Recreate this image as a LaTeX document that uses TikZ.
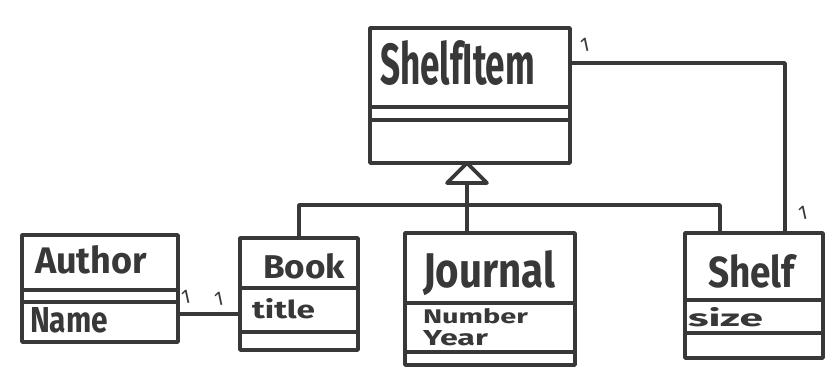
\documentclass[tikz,border=0pt]{standalone}
\usepackage{fontspec}
\setmainfont{Fira Sans}
\usetikzlibrary{calc}
\definecolor{ink}{HTML}{383838}
% hand-lettered label: exact width and ascender height
\newcommand\hw[3]{\resizebox{#1pt}{#2pt}{\bfseries #3}}

\begin{document}
\begin{tikzpicture}[x=1pt,y=-1pt,
  pen/.style={draw=ink,line width=3.6pt,line cap=round,line join=round},
  umlbox/.style={pen,anchor=north west,inner sep=0pt,outer sep=0pt},
  txt/.style={anchor=base west,inner sep=0pt,outer sep=0pt,text=ink},
  mult/.style={text=ink,inner sep=0pt,font=\fontsize{20}{20}\selectfont,rotate=12}]
\useasboundingbox (0,0) rectangle (835,378);

% class boxes
\node[umlbox,minimum width=200pt,minimum height=135pt] (item)    at (370,28)  {};
\node[umlbox,minimum width=156pt,minimum height=107pt] (author)  at (22,235)  {};
\node[umlbox,minimum width=118pt,minimum height=112pt] (book)    at (240,238) {};
\node[umlbox,minimum width=170pt,minimum height=132pt] (journal) at (405,233) {};
\node[umlbox,minimum width=138pt,minimum height=125pt] (shelf)   at (685,233) {};

% compartment dividers
\foreach \b/\d in {item/79, item/92, author/55, author/67, book/50, book/94,
                   journal/70, journal/119, shelf/67, shelf/100}
  \draw[pen] ([yshift=-\d pt]\b.north west) -- ([yshift=-\d pt]\b.north east);

% class names and attributes
\node[txt] (tItem)    at (380,84)  {\hw{155}{44}{ShelfItem}};
\node[txt] (tAuthor)  at (35,273)  {\hw{112}{28}{Author}};
\node[txt] (tName)    at (30,332)  {\hw{78}{25}{Name}};
\node[txt] (tBook)    at (263,278) {\hw{82}{25}{Book}};
\node[txt] (tTitle)   at (252,318) {\hw{63}{20}{title}};
\node[txt] (tJournal) at (423,287) {\hw{132}{37}{Journal}};
\node[txt] (tNumber)  at (423,323) {\hw{105}{15}{Number}};
\node[txt] (tYear)    at (423,345) {\hw{65}{15}{Year}};
\node[txt] (tShelf)   at (708,287) {\hw{87}{33}{Shelf}};
\node[txt] (tSize)    at (688,326) {\hw{75}{19}{size}};

% generalisation: hollow triangle under ShelfItem
\coordinate (apex) at ([xshift=-3pt]item.south);
\draw[pen] (apex) -- ++(-20,20) -- ++(40,0) -- cycle;
\coordinate (tbase) at ([yshift=-20pt]apex);
\coordinate (bar)   at ([yshift=-42pt]apex);
\coordinate (shelfIn) at ([xshift=35pt]shelf.north west);
\draw[pen] (tbase) -- (tbase |- journal.north);
\draw[pen] (book.north) -- (book.north |- bar) -- (bar -| shelfIn) -- (shelfIn);

% association ShelfItem -- Shelf
\coordinate (itemOut) at ([yshift=-35pt]item.north east);
\coordinate (shelfUp) at ([xshift=100pt]shelf.north west);
\draw[pen] (itemOut) -- (itemOut -| shelfUp) -- (shelfUp);

% association Author -- Book
\coordinate (authOut) at ([yshift=-79pt]author.north east);
\draw[pen] (authOut) -- (authOut -| book.west);

% multiplicities
\node[mult] (m1) at (186,297) {1};
\node[mult] (m2) at (219,299) {1};
\node[mult] (m3) at (585,45)  {1};
\node[mult] (m4) at (803,213) {1};
\end{tikzpicture}
\end{document}
